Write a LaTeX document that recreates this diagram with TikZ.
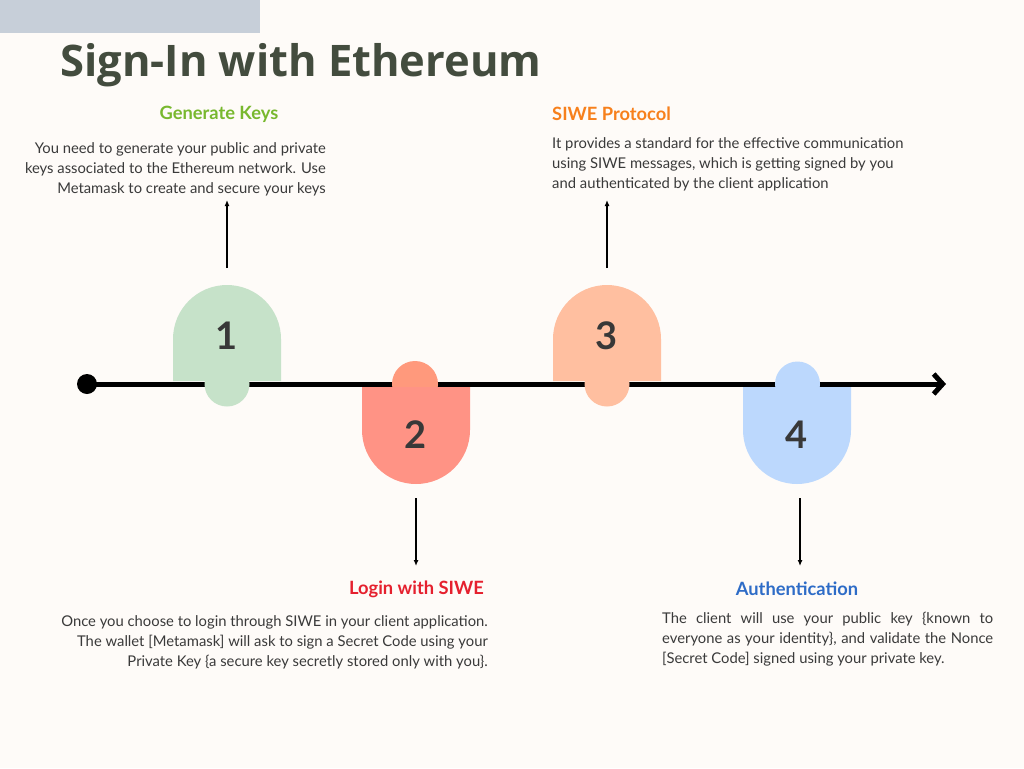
\documentclass[tikz,border=0pt]{standalone}
\usepackage{fontspec}
\usepackage{xcolor}
\setmainfont{Lato}
\newfontfamily\titlefont{Open Sans}
\usetikzlibrary{arrows.meta,positioning}

\definecolor{sfondo}{HTML}{FEFBF8}
\definecolor{barra}{HTML}{C7CFD9}
\definecolor{titolo}{HTML}{434C3E}
\definecolor{verde}{HTML}{C6E2C9}
\definecolor{rosso}{HTML}{FF9385}
\definecolor{rossoknob}{HTML}{FF997C}
\definecolor{pesca}{HTML}{FFBFA0}
\definecolor{azzurro}{HTML}{BCD8FD}
\definecolor{cifra}{HTML}{383838}
\definecolor{testo}{HTML}{3A3A3A}
\definecolor{hverde}{HTML}{78B82E}
\definecolor{harancio}{HTML}{F7801C}
\definecolor{hrosso}{HTML}{E5202E}
\definecolor{hblu}{HTML}{2E6CC7}

\begin{document}
\begin{tikzpicture}[x=1pt, y=-1pt]
    % Stili
    \tikzstyle{numero}=[font=\fontsize{38}{40}\selectfont\bfseries, text=cifra, inner sep=0]
    \tikzstyle{intestazione}=[font=\fontsize{18.3}{22}\selectfont\bfseries, inner sep=0]
    \tikzstyle{corpo}=[font=\fontsize{14.8}{20}\selectfont, text=testo, inner sep=0]
    \tikzstyle{freccia}=[-{Latex[length=6pt, width=5pt]}, line width=1.5pt]

    % Sfondo
    \fill[sfondo] (0,0) rectangle (1024,768);
    \useasboundingbox (0,0) rectangle (1024,768);
    \fill[barra] (0,0) rectangle (260,33);

    % Titolo
    \node (titolo) [anchor=base west, inner sep=0, text=titolo, font=\titlefont\fontsize{43.5}{50}\selectfont\bfseries] at (60,76) {Sign-In with Ethereum};

    % Linea del tempo
    \coordinate (inizio) at (87,384);
    \coordinate (fine) at (946,384);
    \draw[line width=5pt, -{Straight Barb[length=9pt, width=20pt]}] (inizio) -- (fine);
    \fill (inizio) circle (10);

    % Passi
    \fill[verde] (227,384) circle (22.5);
    \fill[verde] (173,381) -- (173,339) arc[start angle=180, end angle=360, radius=54] -- (281,381) -- cycle;
    \fill[rossoknob] (415,384) circle (23);
    \fill[rosso] (362,387) -- (362,430) arc[start angle=180, end angle=0, radius=54] -- (470,387) -- cycle;
    \fill[pesca] (607,384) circle (22.5);
    \fill[pesca] (553,381) -- (553,339) arc[start angle=180, end angle=360, radius=54] -- (661,381) -- cycle;
    \fill[azzurro] (797.5,384) circle (22.5);
    \fill[azzurro] (743,387) -- (743,430) arc[start angle=180, end angle=0, radius=54] -- (851,387) -- cycle;

    \node (n1) [numero] at (227,336) {1};
    \node (n2) [numero] at (416,435) {2};
    \node (n3) [numero] at (607,336) {3};
    \node (n4) [numero] at (797,435) {4};

    % Testi
    \node (chiavi) [intestazione, text=hverde] at (219,114) {Generate Keys};
    \node (chiavitesto) [corpo, align=right, anchor=east] at (326,169) {You need to generate your public and private\\keys associated to the Ethereum network. Use\\Metamask to create and secure your keys};
    \node (protocollo) [intestazione, text=harancio, anchor=west] at (552,114) {SIWE Protocol};
    \node (protocollotesto) [corpo, align=left, anchor=west] at (552,164) {It provides a standard for the effective communication\\using SIWE messages, which is getting signed by you\\and authenticated by the client application};
    \node (login) [intestazione, text=hrosso, anchor=east] at (484,589) {Login with SIWE};
    \node (logintesto) [corpo, align=right, anchor=east] at (488,642) {Once you choose to login through SIWE in your client application.\\The wallet [Metamask] will ask to sign a Secret Code using your\\Private Key \{a secure key secretly stored only with you\}.};
    \node (autenticazione) [intestazione, text=hblu] at (797,589) {Authentication};
    \node (autenticazionetesto) [corpo, align=justify, text width=331pt, anchor=west] at (662,639) {The client will use your public key \{known to\linebreak{} everyone as your identity\}, and validate the Nonce\linebreak{} {[}Secret Code{]} signed using your private key.};

    % Frecce
    \coordinate (f1a) at (227,268);
    \coordinate (f1b) at (227,200);
    \coordinate (f2a) at (416,498);
    \coordinate (f2b) at (416,566);
    \coordinate (f3a) at (607,268);
    \coordinate (f3b) at (607,200);
    \coordinate (f4a) at (800,498);
    \coordinate (f4b) at (800,566);
    \draw[freccia] (f1a) -- (f1b);
    \draw[freccia] (f2a) -- (f2b);
    \draw[freccia] (f3a) -- (f3b);
    \draw[freccia] (f4a) -- (f4b);
\end{tikzpicture}
\end{document}
